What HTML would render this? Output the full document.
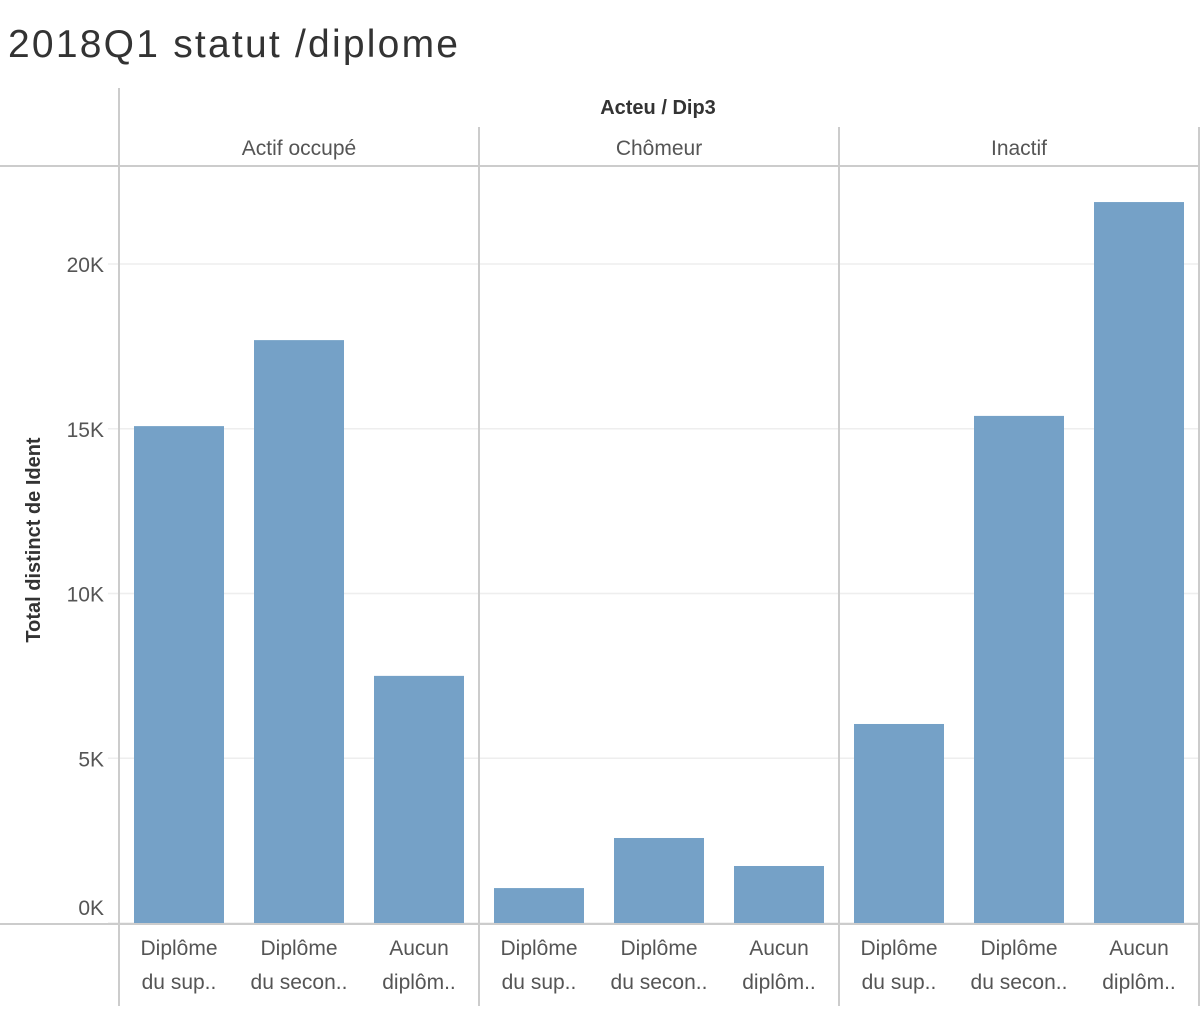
<!DOCTYPE html>
<html><head><meta charset="utf-8"><style>
body{margin:0;background:#fff;width:1202px;height:1006px;overflow:hidden}
svg text{font-family:"Liberation Sans",sans-serif}
</style></head><body>
<svg id="c" width="1202" height="1006">
<text x="8" y="57" font-size="39" fill="#333" textLength="450" lengthAdjust="spacing">2018Q1 statut /diplome</text>
<text x="658" y="114" font-size="20" font-weight="bold" fill="#333" text-anchor="middle">Acteu / Dip3</text>
<text transform="translate(40,540) rotate(-90)" font-size="20" font-weight="bold" fill="#333" text-anchor="middle">Total distinct de Ident</text>
<g id="g"></g>
</svg>
<script>
const panels=["Actif occupé","Chômeur","Inactif"];
const cats1=["Diplôme","Diplôme","Aucun"];
const cats2=["du sup..","du secon..","diplôm.."];
const values=[[15080,17690,7500],[1060,2580,1730],[6040,15390,21880]];
const ticks=[0,5000,10000,15000,20000];
const tickLabels=["0K","5K","10K","15K","20K"];
const NS="http://www.w3.org/2000/svg";
const g=document.getElementById('g');
const y0=923,pxPerUnit=164.75/5000;
const y=v=>y0-v*pxPerUnit;
const px0=119,pw=360,slot=120;
function el(t,a){const e=document.createElementNS(NS,t);for(const k in a)e.setAttribute(k,a[k]);g.appendChild(e);return e;}
ticks.forEach((t,i)=>{
 const l=el('line',{x1:108,x2:1199,y1:y(t),y2:y(t),stroke:'#eee','stroke-width':1.5});
 
 
 const ty=t===0?y(t)-8:y(t)+8;
 const tx=el('text',{x:104,y:ty,'font-size':21,fill:'#555','text-anchor':'end'});
 tx.textContent=tickLabels[i];
 
 
});
values.forEach((vals,p)=>{
 const x0=px0+p*pw;
 const h=el('text',{x:x0+pw/2,y:155,'font-size':21,fill:'#555','text-anchor':'middle'});
 h.textContent=panels[p];
 
 
 vals.forEach((v,i)=>{
  const r=el('rect',{x:x0+i*slot+15,y:y(v),width:90,height:y0-y(v),fill:'#75a1c7'});
  
  
  const a=el('text',{x:x0+i*slot+60,y:955,'font-size':21,fill:'#555','text-anchor':'middle'});
  a.textContent=cats1[i];
  
  
  const b=el('text',{x:x0+i*slot+60,y:989,'font-size':21,fill:'#555','text-anchor':'middle'});
  b.textContent=cats2[i];
  
  
 });
});
const lines=[[119,88,119,1006],[479,127,479,1006],[839,127,839,1006],[1199,127,1199,1006],[0,166,1199,166],[0,924,1199,924]];
lines.forEach(c=>{
 const l=el('line',{x1:c[0],y1:c[1],x2:c[2],y2:c[3],stroke:'#ccc','stroke-width':2});
 
 
});
</script>
</body></html>
